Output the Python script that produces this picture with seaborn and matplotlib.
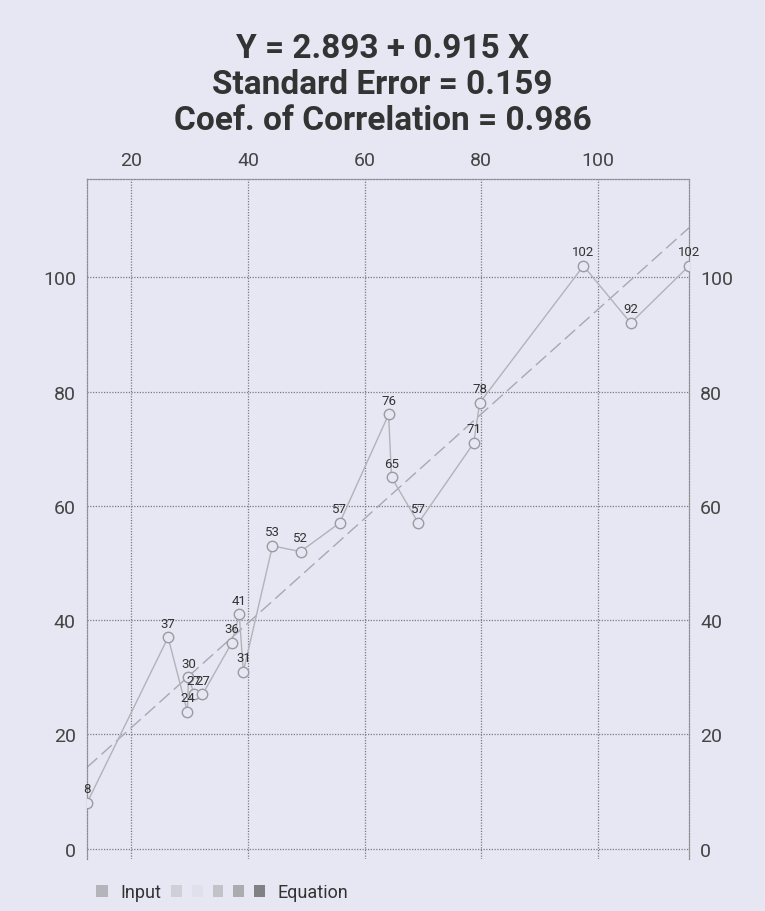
import matplotlib
matplotlib.use("Agg")
import matplotlib.pyplot as plt
from matplotlib.patches import Patch
from matplotlib.legend_handler import HandlerTuple
import seaborn as sns
import numpy as np
import pandas as pd

# --- DATA ---
x_vals = [12.4, 26.3, 29.8, 29.6, 30.8, 32.2, 37.2, 38.5, 39.2, 44.2,
          49.0, 55.7, 64.1, 64.6, 69.2, 78.7, 79.7, 97.5, 105.6, 115.6]
y_vals = [8, 37, 30, 24, 27, 27, 36, 41, 31, 53,
          52, 57, 76, 65, 57, 71, 78, 102, 92, 102]
intercept = 2.893
slope = 0.915
std_error = 0.159
correlation = 0.986
x_ticks = [20, 40, 60, 80, 100]
y_ticks = [0, 20, 40, 60, 80, 100]
legend_labels = ['Input', 'Equation']
# -----------------------------------

BG = '#e7e7f3'

sns.set_theme(style='white')
plt.rcParams['font.family'] = ['Roboto', 'DejaVu Sans']

df = pd.DataFrame({'x': x_vals, 'y': y_vals})
xs = np.array([min(x_vals), max(x_vals)])
fit = pd.DataFrame({'x': xs, 'y': intercept + slope * xs})

fig = plt.figure(figsize=(7.65, 9.12), dpi=100, facecolor=BG)
ax = fig.add_axes([0.1137, 0.057, 0.787, 0.7456], facecolor=BG)

# regression line
sns.lineplot(data=fit, x='x', y='y', ax=ax, color='#a8a8b0', lw=1.0,
             linestyle=(0, (10, 4)), zorder=2)

# input series
sns.lineplot(data=df, x='x', y='y', ax=ax, sort=True, estimator=None,
             color='#b2b2b8', lw=1.0, marker='o', markersize=7.5,
             markerfacecolor=BG, markeredgecolor='#9a9aa0',
             markeredgewidth=1.0, zorder=3)

for xv, yv in zip(x_vals, y_vals):
    ax.annotate(f'{yv}', (xv, yv), xytext=(0, 5.5), textcoords='offset points',
                ha='center', va='bottom', fontsize=9.5, color='#333333',
                zorder=4)

ax.set_xlim(min(x_vals), max(x_vals))
ax.set_ylim(-1.8, 117.2)
ax.set_xticks(x_ticks)
ax.set_yticks(y_ticks)
ax.xaxis.tick_top()
ax.tick_params(axis='x', length=0, pad=7, labelsize=14, labelcolor='#444444',
               labelbottom=False, labeltop=True)
ax.tick_params(axis='y', length=0, pad=8, labelsize=14, labelcolor='#444444',
               left=True, right=True, labelleft=True, labelright=True)
ax.set_xlabel('')
ax.set_ylabel('')

ax.grid(True, color='#7a7a80', linestyle=(0, (1, 1.2)), lw=0.9)
for side in ['left', 'right', 'top']:
    ax.spines[side].set_visible(True)
    ax.spines[side].set_color('#8a8a90')
    ax.spines[side].set_linestyle((0, (1, 1.2)))
    ax.spines[side].set_linewidth(0.9)
ax.spines['bottom'].set_visible(False)

title = (f'Y = {intercept:.3f} + {slope:.3f} X\n'
         f'Standard Error = {std_error:.3f}\n'
         f'Coef. of Correlation = {correlation:.3f}')
fig.text(0.5, 0.907, title, ha='center', va='center', fontsize=24,
         fontweight='bold', color='#333333', linespacing=1.17)

# legend: one square for Input, a strip of squares for Equation
input_patch = Patch(facecolor='#b4b4ba', edgecolor='none')
eq_patches = tuple(Patch(facecolor=c, edgecolor='none')
                   for c in ['#cfcfd7', '#e0e0ea', '#c2c2c8', '#ababb0', '#808085'])

leg1 = fig.legend([input_patch], [legend_labels[0]], loc='center left',
                  bbox_to_anchor=(96 / 765, 1 - 893 / 912), frameon=False,
                  fontsize=13, handlelength=0.65, handleheight=0.65,
                  handletextpad=0.7, borderpad=0, borderaxespad=0,
                  labelcolor='#333333')
leg2 = fig.legend([eq_patches], [legend_labels[1]], loc='center left',
                  bbox_to_anchor=(171 / 765, 1 - 893 / 912), frameon=False,
                  fontsize=13, handlelength=5.2, handleheight=0.65,
                  handletextpad=0.7, borderpad=0, borderaxespad=0,
                  labelcolor='#333333',
                  handler_map={tuple: HandlerTuple(ndivide=None, pad=0.55)})

fig.savefig('out.png', dpi=100, facecolor=BG)
